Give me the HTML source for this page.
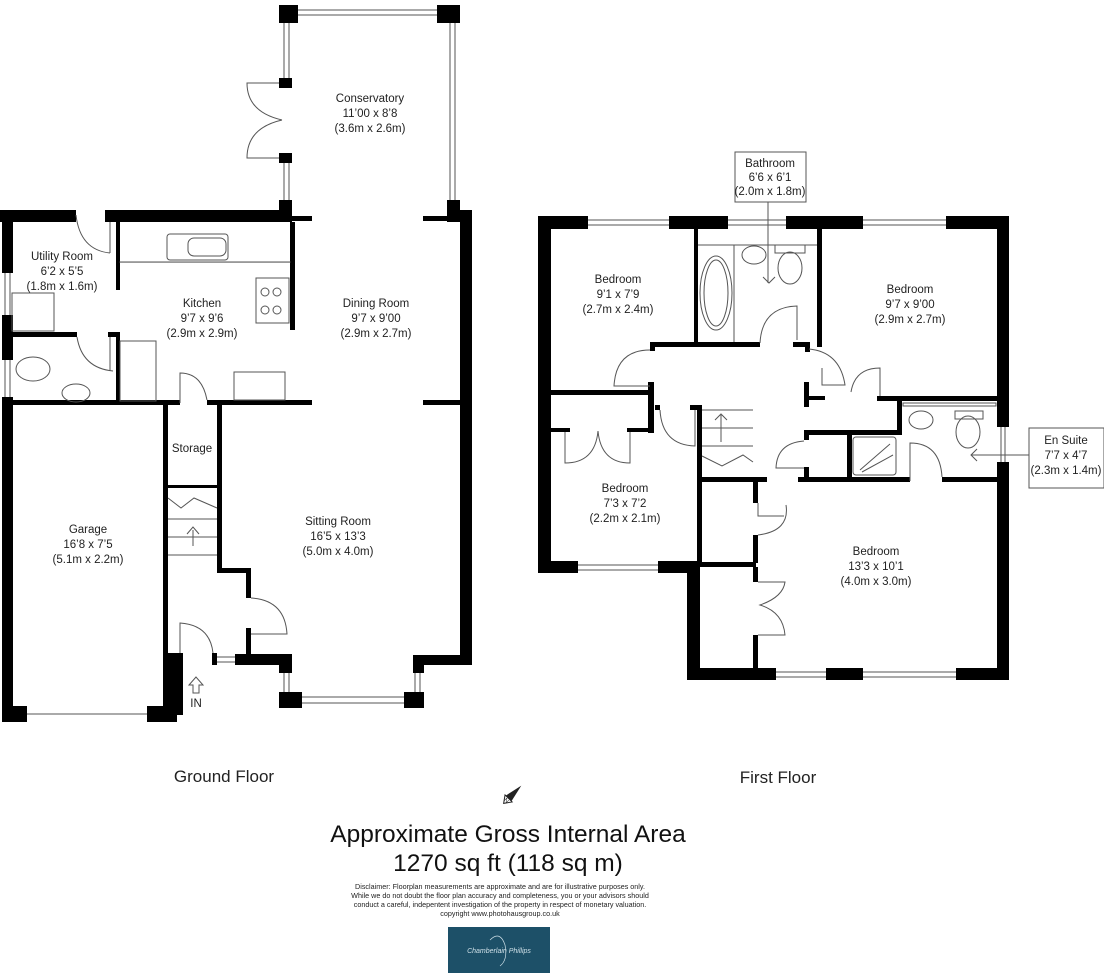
<!DOCTYPE html>
<html><head><meta charset="utf-8"><style>
html,body{margin:0;padding:0;background:#fff;}
svg{display:block;}
text{font-family:"Liberation Sans",sans-serif;fill:#222;}
.l{font-size:11.5px;text-anchor:middle;}
</style></head><body>
<svg width="1104" height="977" viewBox="0 0 1104 977" xmlns="http://www.w3.org/2000/svg">
<g fill="#000">
<rect x="279" y="5" width="19" height="18"/>
<rect x="437" y="5" width="23" height="18"/>
<rect x="279" y="78" width="13" height="10"/>
<rect x="279" y="153" width="13" height="10"/>
<rect x="0" y="210" width="76" height="12"/>
<rect x="105" y="210" width="187" height="12"/>
<rect x="279" y="200" width="13" height="22"/>
<rect x="292" y="216" width="20" height="5"/>
<rect x="423" y="216" width="29" height="5"/>
<rect x="447" y="200" width="13" height="22"/>
<rect x="460" y="210" width="12" height="455"/>
<rect x="413" y="655" width="59" height="10"/>
<rect x="413" y="655" width="11" height="18"/>
<rect x="2" y="210" width="11" height="63"/>
<rect x="2" y="315" width="11" height="45"/>
<rect x="2" y="397" width="11" height="325"/>
<rect x="2" y="706" width="25" height="16"/>
<rect x="147" y="706" width="30" height="16"/>
<rect x="163" y="405" width="5" height="311"/>
<rect x="163" y="653" width="20" height="62"/>
<rect x="13" y="400" width="167" height="5"/>
<rect x="207" y="400" width="105" height="5"/>
<rect x="423" y="400" width="37" height="5"/>
<rect x="217" y="405" width="5" height="168"/>
<rect x="217" y="568" width="33" height="5"/>
<rect x="246" y="568" width="5" height="30"/>
<rect x="246" y="628" width="5" height="30"/>
<rect x="235" y="654" width="57" height="11"/>
<rect x="279" y="655" width="13" height="18"/>
<rect x="212" y="653" width="5" height="12"/>
<rect x="168" y="485" width="49" height="3"/>
<rect x="279" y="692" width="23" height="16"/>
<rect x="404" y="692" width="20" height="16"/>
<rect x="116" y="220" width="4" height="70"/>
<rect x="116" y="333" width="4" height="70"/>
<rect x="108" y="332" width="12" height="5"/>
<rect x="13" y="332" width="64" height="5"/>
<rect x="290" y="222" width="5" height="108"/>
</g>
<g fill="none" stroke="#555" stroke-width="1">
<path d="M298 10H437M298 15H437M284 23V78M289 23V78M284 163V200M289 163V200M450 23V200M455 23V200"/>
<path d="M5 273V315M10 273V315M5 360V397M10 360V397M27 714H147"/>
<path d="M302 697H404M302 703H404M284 673V692M289 673V692M415 673V692M420 673V692M217 657H235M217 662H235"/>
<path d="M279 83H247Q247 112 282 120M279 158H247Q247 128 282 120"/>
<path d="M76 215Q80 250 110 253M110 222V253"/>
<path d="M77 337Q82 368 113 371M110 337V371"/>
<path d="M180 403V373Q202 373 207 400"/>
<path d="M251 598Q285 600 287 634H251"/>
<path d="M180 653V623Q210 625 213 653"/>
<rect x="120" y="262" width="170" height="0.1"/>
<rect x="167" y="234" width="61" height="26" rx="3"/>
<rect x="188" y="238" width="38" height="18" rx="6"/>
<rect x="256" y="278" width="33" height="45"/>
<circle cx="265" cy="292" r="4"/><circle cx="277" cy="292" r="4"/>
<circle cx="265" cy="310" r="4"/><circle cx="277" cy="310" r="4"/>
<rect x="12" y="293" width="42" height="38"/>
<rect x="120" y="341" width="36" height="60"/>
<rect x="234" y="372" width="51" height="28"/>
<ellipse cx="33" cy="369" rx="17" ry="12"/>
<ellipse cx="76" cy="393" rx="14" ry="9"/>
<path d="M168 519H217M168 537H217M168 555H217M168 498L181 508L194 498L217 508M193 546V530M187 534L193 527L199 534"/>
<path d="M196 677L189 685H193V693H199V685H203Z"/>
</g>
<g fill="#000">
<rect x="538" y="216" width="50" height="13"/>
<rect x="669" y="216" width="59" height="13"/>
<rect x="786" y="216" width="77" height="13"/>
<rect x="946" y="216" width="63" height="13"/>
<rect x="538" y="216" width="13" height="357"/>
<rect x="538" y="561" width="40" height="12"/>
<rect x="658" y="561" width="42" height="12"/>
<rect x="687" y="561" width="13" height="119"/>
<rect x="687" y="668" width="89" height="12"/>
<rect x="826" y="668" width="37" height="12"/>
<rect x="956" y="668" width="53" height="12"/>
<rect x="997" y="216" width="12" height="211"/>
<rect x="997" y="462" width="12" height="218"/>
<rect x="694" y="229" width="4" height="114"/>
<rect x="817" y="229" width="5" height="118"/>
<rect x="650" y="342" width="110" height="5"/>
<rect x="650" y="342" width="5" height="9"/>
<rect x="793" y="342" width="17" height="5"/>
<rect x="805" y="342" width="5" height="10"/>
<rect x="551" y="390" width="103" height="5"/>
<rect x="648" y="382" width="6" height="51"/>
<rect x="551" y="428" width="19" height="4"/>
<rect x="627" y="428" width="27" height="4"/>
<rect x="655" y="405" width="5" height="5"/>
<rect x="697" y="405" width="5" height="157"/>
<rect x="690" y="405" width="12" height="5"/>
<rect x="702" y="477" width="65" height="5"/>
<rect x="753" y="480" width="5" height="23"/>
<rect x="753" y="535" width="5" height="28"/>
<rect x="698" y="562" width="58" height="5"/>
<rect x="753" y="567" width="5" height="15"/>
<rect x="753" y="635" width="5" height="33"/>
<rect x="804" y="382" width="5" height="25"/>
<rect x="804" y="430" width="5" height="10"/>
<rect x="804" y="467" width="5" height="15"/>
<rect x="809" y="396" width="16" height="4"/>
<rect x="877" y="396" width="120" height="5"/>
<rect x="897" y="400" width="5" height="35"/>
<rect x="809" y="430" width="93" height="5"/>
<rect x="798" y="477" width="112" height="5"/>
<rect x="942" y="477" width="55" height="5"/>
<rect x="847" y="435" width="5" height="42"/>
</g>
<g fill="none" stroke="#555" stroke-width="1">
<path d="M588 220H669M588 225H669M728 220H786M728 225H786M863 220H946M863 225H946M578 565H658M578 570H658M776 672H826M776 677H826M863 672H956M863 677H956M1001 427V462M1005 427V462"/>
<path d="M698 245H817M734 245V342"/>
<ellipse cx="716" cy="293" rx="16" ry="37"/><ellipse cx="716" cy="293" rx="12" ry="33"/>
<ellipse cx="754" cy="255" rx="12" ry="9"/>
<rect x="775" y="245" width="30" height="8"/><ellipse cx="790" cy="268" rx="12" ry="16"/>
<path d="M763 277L769 283L775 277M768 202V283"/>
<path d="M760 343Q762 307 797 306V340"/>
<path d="M650 350Q616 350 614 386H650"/>
<path d="M809 349Q840 352 845 385H822V368"/>
<path d="M851 392Q855 368 880 368V396"/>
<path d="M565 432V463Q595 463 598 431Q601 463 630 463V432"/>
<path d="M660 410Q662 445 695 446V410"/>
<path d="M702 410H753M702 428H753M702 446H753M721 442V415M715 420L721 414L727 420M702 456L722 466L743 455L753 462"/>
<path d="M804 441Q777 443 776 468H804"/>
<path d="M758 503V516H784M758 535Q790 531 786 505"/>
<path d="M758 582H785Q783 597 760 605Q783 612 785 635H758"/>
<rect x="853" y="437" width="43" height="38" rx="3"/>
<path d="M860 470L890 444M862 472L893 455"/>
<path d="M910 481V443Q940 443 942 477"/>
<rect x="903" y="403" width="93" height="3"/>
<ellipse cx="921" cy="420" rx="12" ry="9"/>
<rect x="955" y="411" width="28" height="8"/><ellipse cx="968" cy="432" rx="12" ry="16"/>
<path d="M977 449L971 455L977 461M971 455H1029"/>
<rect x="735" y="152" width="71" height="50" fill="#fff"/>
<rect x="1029" y="428" width="75" height="60" fill="#fff"/>
</g>
<text class="l" x="370" y="102">Conservatory</text>
<text class="l" x="370" y="117">11’00 x 8’8</text>
<text class="l" x="370" y="132">(3.6m x 2.6m)</text>
<text class="l" x="62" y="260">Utility Room</text>
<text class="l" x="62" y="275">6’2 x 5’5</text>
<text class="l" x="62" y="290">(1.8m x 1.6m)</text>
<text class="l" x="202" y="307">Kitchen</text>
<text class="l" x="202" y="322">9’7 x 9’6</text>
<text class="l" x="202" y="337">(2.9m x 2.9m)</text>
<text class="l" x="376" y="307">Dining Room</text>
<text class="l" x="376" y="322">9’7 x 9’00</text>
<text class="l" x="376" y="337">(2.9m x 2.7m)</text>
<text class="l" x="192" y="452">Storage</text>
<text class="l" x="88" y="533">Garage</text>
<text class="l" x="88" y="548">16’8 x 7’5</text>
<text class="l" x="88" y="563">(5.1m x 2.2m)</text>
<text class="l" x="338" y="525">Sitting Room</text>
<text class="l" x="338" y="540">16’5 x 13’3</text>
<text class="l" x="338" y="555">(5.0m x 4.0m)</text>
<text class="l" x="196" y="707">IN</text>
<text class="l" x="618" y="283">Bedroom</text>
<text class="l" x="618" y="298">9’1 x 7’9</text>
<text class="l" x="618" y="313">(2.7m x 2.4m)</text>
<text class="l" x="910" y="293">Bedroom</text>
<text class="l" x="910" y="308">9’7 x 9’00</text>
<text class="l" x="910" y="323">(2.9m x 2.7m)</text>
<text class="l" x="625" y="492">Bedroom</text>
<text class="l" x="625" y="507">7’3 x 7’2</text>
<text class="l" x="625" y="522">(2.2m x 2.1m)</text>
<text class="l" x="876" y="555">Bedroom</text>
<text class="l" x="876" y="570">13’3 x 10’1</text>
<text class="l" x="876" y="585">(4.0m x 3.0m)</text>
<text class="l" x="770" y="167">Bathroom</text>
<text class="l" x="770" y="181">6’6 x 6’1</text>
<text class="l" x="770" y="195">(2.0m x 1.8m)</text>
<text class="l" x="1066" y="444">En Suite</text>
<text class="l" x="1066" y="459">7’7 x 4’7</text>
<text class="l" x="1066" y="474">(2.3m x 1.4m)</text>
<text x="224" y="782" style="font-size:17px;text-anchor:middle">Ground Floor</text>
<text x="778" y="783" style="font-size:17px;text-anchor:middle">First Floor</text>
<g transform="translate(510,797) rotate(45)"><path d="M0 -16L4 2H-4Z" fill="#222"/><path d="M-5 2L0 9L5 2Z" fill="#fff" stroke="#222"/><text x="0" y="7" style="font-size:6px;text-anchor:middle">N</text></g>
<text x="508" y="842" style="font-size:24.5px;text-anchor:middle;fill:#111">Approximate Gross Internal Area</text>
<text x="508" y="871" style="font-size:24.5px;text-anchor:middle;fill:#111">1270 sq ft (118 sq m)</text>
<g style="font-size:7.2px;text-anchor:middle">
<text x="500" y="889">Disclaimer: Floorplan measurements are approximate and are for illustrative purposes only.</text>
<text x="500" y="898">While we do not doubt the floor plan accuracy and completeness, you or your advisors should</text>
<text x="500" y="907">conduct a careful, indepentent investigation of the property in respect of monetary valuation.</text>
<text x="500" y="916">copyright www.photohausgroup.co.uk</text>
</g>
<rect x="448" y="927" width="102" height="46" fill="#1d5068"/>
<text x="499" y="953" style="font-size:7px;text-anchor:middle;fill:#cfe0e8;font-style:italic">Chamberlain Phillips</text>
<path d="M490 940Q500 930 505 945Q508 960 500 966" fill="none" stroke="#cfe0e8" stroke-width="0.7"/>
</svg>
</body></html>
